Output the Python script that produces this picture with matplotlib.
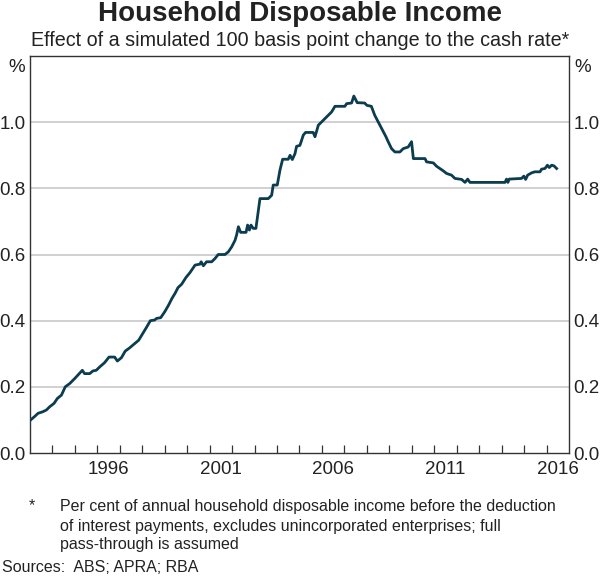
import matplotlib
matplotlib.use('Agg')
import matplotlib.pyplot as plt

plt.rcParams['font.family'] = ['Liberation Sans', 'DejaVu Sans']

# effect on household disposable income (decimal year, per cent)
dates = [1993.03, 1993.20, 1993.36, 1993.58, 1993.73, 1993.88, 1994.07, 1994.22,
         1994.40, 1994.57, 1994.77, 1994.99, 1995.17, 1995.33, 1995.43, 1995.66,
         1995.80, 1995.95, 1996.10, 1996.32, 1996.52, 1996.77, 1996.89, 1997.07,
         1997.24, 1997.44, 1997.63, 1997.84, 1998.03, 1998.18, 1998.36, 1998.55,
         1998.64, 1998.82, 1999.00, 1999.17, 1999.32, 1999.47, 1999.59, 1999.75,
         1999.95, 2000.12, 2000.35, 2000.57, 2000.62, 2000.72, 2000.86, 2001.09,
         2001.24, 2001.38, 2001.68, 2001.83, 2001.98, 2002.13, 2002.20, 2002.28,
         2002.38, 2002.62, 2002.69, 2002.77, 2002.84, 2002.94, 2003.06, 2003.17,
         2003.24, 2003.61, 2003.76, 2003.83, 2004.01, 2004.13, 2004.25, 2004.50,
         2004.58, 2004.68, 2004.80, 2004.87, 2005.02, 2005.17, 2005.27, 2005.61,
         2005.69, 2005.84, 2006.06, 2006.28, 2006.43, 2006.58, 2007.02, 2007.10,
         2007.32, 2007.42, 2007.57, 2007.90, 2008.00, 2008.20, 2008.35, 2008.58,
         2008.73, 2008.85, 2008.95, 2009.10, 2009.25, 2009.47, 2009.62, 2009.84,
         2009.99, 2010.07, 2010.59, 2010.66, 2010.96, 2011.10, 2011.25, 2011.40,
         2011.55, 2011.77, 2011.92, 2012.22, 2012.37, 2012.49, 2012.59, 2014.15,
         2014.22, 2014.28, 2014.34, 2014.89, 2014.99, 2015.07, 2015.16, 2015.34,
         2015.48, 2015.71, 2015.78, 2015.93, 2016.04, 2016.12, 2016.23, 2016.33,
         2016.45]
values = [0.100, 0.110, 0.120, 0.125, 0.130, 0.140, 0.150, 0.165,
          0.175, 0.200, 0.210, 0.225, 0.238, 0.250, 0.240, 0.240,
          0.248, 0.250, 0.260, 0.273, 0.290, 0.290, 0.278, 0.288,
          0.308, 0.318, 0.329, 0.341, 0.362, 0.379, 0.400, 0.402,
          0.407, 0.409, 0.427, 0.447, 0.467, 0.484, 0.500, 0.510,
          0.531, 0.545, 0.568, 0.571, 0.578, 0.566, 0.578, 0.578,
          0.588, 0.600, 0.600, 0.608, 0.623, 0.643, 0.659, 0.684,
          0.667, 0.667, 0.689, 0.674, 0.689, 0.679, 0.679, 0.734,
          0.769, 0.769, 0.779, 0.810, 0.810, 0.855, 0.888, 0.888,
          0.900, 0.887, 0.905, 0.927, 0.930, 0.961, 0.969, 0.969,
          0.956, 0.991, 1.006, 1.021, 1.031, 1.048, 1.048, 1.056,
          1.058, 1.079, 1.059, 1.058, 1.051, 1.048, 1.021, 0.991,
          0.971, 0.956, 0.941, 0.920, 0.910, 0.910, 0.920, 0.925,
          0.941, 0.890, 0.890, 0.880, 0.877, 0.867, 0.860, 0.853,
          0.845, 0.840, 0.830, 0.827, 0.818, 0.828, 0.818, 0.818,
          0.828, 0.818, 0.828, 0.830, 0.837, 0.827, 0.840, 0.847,
          0.850, 0.850, 0.858, 0.860, 0.870, 0.863, 0.870, 0.868,
          0.860]

year_labels = ['1996', '2001', '2006', '2011', '2016']
y_ticks = [0.0, 0.2, 0.4, 0.6, 0.8, 1.0]

fig = plt.figure(figsize=(6.0, 5.77), dpi=100)
ax = fig.add_axes([0.05, 0.2149, 0.8983, 0.688])

for v in y_ticks[1:]:
    ax.axhline(v, color='#c8c8c8', lw=1.2, zorder=1)
ax.plot(dates, values, color='#0b3c4f', lw=2.0, zorder=3)

ax.set_xlim(1993, 2017)
ax.set_ylim(0, 1.2)

# labels sit mid-year, small ticks mark the year boundaries
ax.set_xticks([int(y) + 0.5 for y in year_labels])
ax.set_xticklabels(year_labels)
ax.set_xticks(range(1994, 2017), minor=True)
ax.tick_params(axis='x', which='major', length=0, labelsize=13.5, pad=6, colors='#222222')
ax.tick_params(axis='x', which='minor', direction='in', length=6, width=0.9, color='#333333')

ax.set_yticks(y_ticks)
ax.set_yticklabels(['%.1f' % v for v in y_ticks])
ax.tick_params(axis='y', length=0, labelsize=13.5, pad=3, colors='#222222',
               labelleft=True, labelright=True)

for s in ax.spines.values():
    s.set_color('#333333')
    s.set_linewidth(1.0)

fig.text(17 / 600, 1 - 67 / 577, '%', ha='center', va='center', fontsize=13.5, color='#222222')
fig.text(583 / 600, 1 - 67 / 577, '%', ha='center', va='center', fontsize=13.5, color='#222222')

fig.text(0.5, 1 - 14 / 577, 'Household Disposable Income', ha='center', va='center',
         fontsize=20, fontweight='bold', color='#222222')
fig.text(0.5, 1 - 41 / 577, 'Effect of a simulated 100 basis point change to the cash rate*',
         ha='center', va='center', fontsize=14.2, color='#222222')

fig.text(29 / 600, 1 - 506 / 577, '*', ha='left', va='center', fontsize=11.5, color='#222222')
fig.text(60 / 600, 1 - 506 / 577,
         'Per cent of annual household disposable income before the deduction',
         ha='left', va='center', fontsize=11.5, color='#222222')
fig.text(60 / 600, 1 - 526 / 577,
         'of interest payments, excludes unincorporated enterprises; full',
         ha='left', va='center', fontsize=11.5, color='#222222')
fig.text(60 / 600, 1 - 545 / 577, 'pass-through is assumed',
         ha='left', va='center', fontsize=11.5, color='#222222')
fig.text(2 / 600, 1 - 567 / 577, 'Sources:  ABS; APRA; RBA',
         ha='left', va='center', fontsize=11.5, color='#222222')

fig.savefig('out.png', dpi=100)
